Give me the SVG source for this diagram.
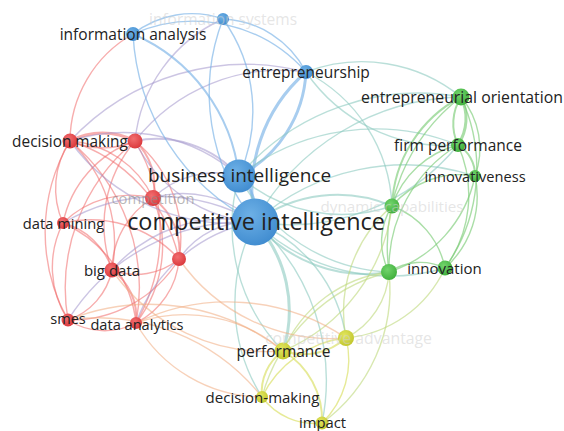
<svg xmlns="http://www.w3.org/2000/svg" width="564" height="431" viewBox="0 0 564 431">
<defs>
<radialGradient id="gr" cx="0.4" cy="0.35" r="0.7"><stop offset="0" stop-color="#f26d6f"/><stop offset="1" stop-color="#d9363a"/></radialGradient>
<radialGradient id="gb" cx="0.4" cy="0.35" r="0.7"><stop offset="0" stop-color="#6db0e6"/><stop offset="1" stop-color="#3f8bcf"/></radialGradient>
<radialGradient id="gg" cx="0.4" cy="0.35" r="0.7"><stop offset="0" stop-color="#72d46c"/><stop offset="1" stop-color="#3eae3b"/></radialGradient>
<radialGradient id="gy" cx="0.4" cy="0.35" r="0.7"><stop offset="0" stop-color="#e2e660"/><stop offset="1" stop-color="#c0c52a"/></radialGradient>
</defs>
<style>
path{fill:none;stroke-width:1.4;stroke-linecap:round}
.r{stroke:#f06a6a;stroke-opacity:.55}
.b{stroke:#7ab2e6;stroke-opacity:.65}
.g{stroke:#7ccc78;stroke-opacity:.65}
.y{stroke:#d8df60;stroke-opacity:.65}
.p{stroke:#a396cc;stroke-opacity:.55}
.o{stroke:#f0ab80;stroke-opacity:.55}
.t{stroke:#8cc9c0;stroke-opacity:.6}
.yg{stroke:#bed97c;stroke-opacity:.6}
.k{stroke-width:3}
.m{stroke-width:2}
text{font-family:"Open Sans","Noto Sans","DejaVu Sans",sans-serif;fill:#222;text-anchor:middle;dominant-baseline:central}
.f{fill:#d0d0d0;fill-opacity:.55}
.fc{fill:#8a8a8a;fill-opacity:.6}
</style>
<rect width="564" height="431" fill="#ffffff"/>
<g id="connectors">
<path class="r k" d="M70,141 A70,70 0 0 1 135,141"/>
<path class="r" d="M135,141 A80,80 0 0 1 70,141"/>
<path class="r" d="M70,141 A100,100 0 0 1 153,198"/>
<path class="r" d="M63,223 A85,85 0 0 1 70,141"/>
<path class="r" d="M70,141 A140,140 0 0 1 112,270"/>
<path class="r" d="M68,320 A180,180 0 0 1 70,141"/>
<path class="r" d="M70,141 A190,190 0 0 1 136,323"/>
<path class="r" d="M70,141 A160,160 0 0 1 179,259"/>
<path class="r m" d="M135,141 A60,60 0 0 1 153,198"/>
<path class="r" d="M63,223 A110,110 0 0 1 135,141"/>
<path class="r" d="M135,141 A125,125 0 0 1 179,259"/>
<path class="r" d="M112,270 A130,130 0 0 1 135,141"/>
<path class="r" d="M135,141 A180,180 0 0 1 136,323"/>
<path class="r" d="M68,320 A190,190 0 0 1 135,141"/>
<path class="r" d="M63,223 A95,95 0 0 1 153,198"/>
<path class="r m" d="M153,198 A66,66 0 0 1 179,259"/>
<path class="r" d="M112,270 A85,85 0 0 1 153,198"/>
<path class="r" d="M153,198 A125,125 0 0 1 136,323"/>
<path class="r" d="M63,223 A70,70 0 0 1 112,270"/>
<path class="r" d="M68,320 A97,97 0 0 1 63,223"/>
<path class="r" d="M63,223 A124,124 0 0 1 136,323"/>
<path class="r" d="M63,223 A120,120 0 0 1 179,259"/>
<path class="r" d="M179,259 A68,68 0 0 1 112,270"/>
<path class="r" d="M179,259 A78,78 0 0 1 136,323"/>
<path class="r" d="M112,270 A67,67 0 0 1 68,320"/>
<path class="r m" d="M112,270 A58,58 0 0 1 136,323"/>
<path class="r" d="M68,320 A68,68 0 0 0 136,323"/>
<path class="r" d="M179,259 A127,127 0 0 1 68,320"/>
<path class="p m" d="M135,141 A110,110 0 0 1 239,176"/>
<path class="p" d="M70,141 A175,175 0 0 1 239,176"/>
<path class="p" d="M153,198 A105,105 0 0 1 255,222"/>
<path class="p" d="M153,198 A90,90 0 0 1 239,176"/>
<path class="p" d="M63,223 A190,190 0 0 1 255,222"/>
<path class="p" d="M179,259 A85,85 0 0 1 255,222"/>
<path class="p" d="M112,270 A150,150 0 0 1 255,222"/>
<path class="p" d="M136,323 A156,156 0 0 1 255,222"/>
<path class="p" d="M68,320 A210,210 0 0 1 255,222"/>
<path class="p" d="M70,141 A200,200 0 0 0 255,222"/>
<path class="p" d="M135,141 A145,145 0 0 0 255,222"/>
<path class="r" d="M70,141 A124,124 0 0 1 133,34"/>
<path class="p" d="M70,141 A240,240 0 0 1 306,72"/>
<path class="p" d="M135,141 A184,184 0 0 1 306,72"/>
<path class="p" d="M223,19 A150,150 0 0 0 135,141"/>
<path class="b" d="M133,34 A150,150 0 0 1 306,72"/>
<path class="b" d="M133,34 A95,95 0 0 1 223,19"/>
<path class="b" d="M223,19 A158,158 0 0 1 239,176"/>
<path class="b" d="M223,19 A205,205 0 0 0 255,222"/>
<path class="b" d="M223,19 A98,98 0 0 1 306,72"/>
<path class="b m" d="M133,34 A177,177 0 0 1 239,176"/>
<path class="b" d="M133,34 A224,224 0 0 0 255,222"/>
<path class="b k" d="M306,72 A124,124 0 0 1 239,176"/>
<path class="b k" d="M306,72 A158,158 0 0 0 255,222"/>
<path class="b k" d="M239,176 A50,50 0 0 1 255,222"/>
<path class="t" d="M255,222 A240,240 0 0 1 461,97"/>
<path class="t" d="M255,222 A217,217 0 0 0 458,145"/>
<path class="t" d="M255,222 A225,225 0 0 1 475,176"/>
<path class="t m" d="M255,222 A138,138 0 0 1 392,206"/>
<path class="t" d="M255,222 A195,195 0 0 0 445,268"/>
<path class="t m" d="M255,222 A143,143 0 0 0 389,272"/>
<path class="t" d="M239,176 A236,236 0 0 1 461,97"/>
<path class="t" d="M239,176 A221,221 0 0 1 458,145"/>
<path class="t" d="M239,176 A156,156 0 0 0 392,206"/>
<path class="t" d="M306,72 A157,157 0 0 1 461,97"/>
<path class="t" d="M306,72 A169,169 0 0 0 458,145"/>
<path class="t" d="M306,72 A158,158 0 0 1 392,206"/>
<path class="t" d="M239,176 A177,177 0 0 0 389,272"/>
<path class="t" d="M255,222 A147,147 0 0 1 346,338"/>
<path class="t k" d="M255,222 A132,132 0 0 1 283,351"/>
<path class="t" d="M255,222 A175,175 0 0 0 262,397"/>
<path class="t" d="M255,222 A212,212 0 0 1 322,423"/>
<path class="t" d="M239,176 A180,180 0 0 0 283,351"/>
<path class="g k" d="M461,97 A48,48 0 0 1 458,145"/>
<path class="g m" d="M458,145 A50,50 0 0 1 461,97"/>
<path class="g" d="M461,97 A80,80 0 0 1 475,176"/>
<path class="g m" d="M461,97 A129,129 0 0 0 392,206"/>
<path class="g" d="M461,97 A171,171 0 0 1 445,268"/>
<path class="g" d="M461,97 A189,189 0 0 0 389,272"/>
<path class="g m" d="M458,145 A35,35 0 0 1 475,176"/>
<path class="g" d="M458,145 A94,94 0 0 0 392,206"/>
<path class="g" d="M458,145 A123,123 0 0 1 445,268"/>
<path class="g" d="M458,145 A145,145 0 0 0 389,272"/>
<path class="g" d="M475,176 A89,89 0 0 0 392,206"/>
<path class="g" d="M475,176 A96,96 0 0 1 445,268"/>
<path class="g" d="M475,176 A128,128 0 0 1 389,272"/>
<path class="g" d="M392,206 A84,84 0 0 1 445,268"/>
<path class="g" d="M392,206 A66,66 0 0 0 389,272"/>
<path class="g" d="M389,272 A56,56 0 0 1 445,268"/>
<path class="yg" d="M389,272 A79,79 0 0 1 346,338"/>
<path class="yg" d="M389,272 A132,132 0 0 0 283,351"/>
<path class="yg" d="M392,206 A181,181 0 0 1 283,351"/>
<path class="yg" d="M445,268 A121,121 0 0 1 346,338"/>
<path class="yg" d="M392,206 A140,140 0 0 0 346,338"/>
<path class="yg" d="M389,272 A165,165 0 0 1 322,423"/>
<path class="yg" d="M389,272 A177,177 0 0 0 262,397"/>
<path class="y m" d="M346,338 A64,64 0 0 1 283,351"/>
<path class="y" d="M346,338 A106,106 0 0 0 262,397"/>
<path class="y" d="M346,338 A88,88 0 0 1 322,423"/>
<path class="y m" d="M283,351 A50,50 0 0 0 262,397"/>
<path class="y m" d="M283,351 A80,80 0 0 1 322,423"/>
<path class="y" d="M262,397 A65,65 0 0 0 322,423"/>
<path class="o" d="M283,351 A150,150 0 0 0 136,323"/>
<path class="o" d="M262,397 A146,146 0 0 1 136,323"/>
<path class="o" d="M283,351 A189,189 0 0 1 112,270"/>
<path class="o" d="M262,397 A209,209 0 0 0 68,320"/>
<path class="o" d="M283,351 A216,216 0 0 0 68,320"/>
<path class="o" d="M346,338 A185,185 0 0 1 179,259"/>
<path class="o" d="M346,338 A211,211 0 0 0 136,323"/>
</g>
<g id="node-information-systems"><circle cx="223" cy="19" r="6" fill="url(#gb)"/></g>
<g id="node-information-analysis"><circle cx="133" cy="34" r="7" fill="url(#gb)"/></g>
<g id="node-entrepreneurship"><circle cx="306" cy="72" r="7" fill="url(#gb)"/></g>
<g id="node-business-intelligence"><circle cx="239" cy="176" r="16.5" fill="url(#gb)"/></g>
<g id="node-competitive-intelligence"><circle cx="255" cy="222" r="23.5" fill="url(#gb)"/></g>
<g id="node-decision-making"><circle cx="70" cy="141" r="7.5" fill="url(#gr)"/></g>
<g id="node-red-2"><circle cx="135" cy="141" r="7.5" fill="url(#gr)"/></g>
<g id="node-competition"><circle cx="153" cy="198" r="8" fill="url(#gr)"/></g>
<g id="node-data-mining"><circle cx="63" cy="223" r="6" fill="url(#gr)"/></g>
<g id="node-red-5"><circle cx="179" cy="259" r="7" fill="url(#gr)"/></g>
<g id="node-big-data"><circle cx="112" cy="270" r="7.5" fill="url(#gr)"/></g>
<g id="node-smes"><circle cx="68" cy="320" r="6.5" fill="url(#gr)"/></g>
<g id="node-data-analytics"><circle cx="136" cy="323" r="6" fill="url(#gr)"/></g>
<g id="node-entrepreneurial-orientation"><circle cx="461" cy="97" r="8.5" fill="url(#gg)"/></g>
<g id="node-firm-performance"><circle cx="458" cy="145" r="7" fill="url(#gg)"/></g>
<g id="node-innovativeness"><circle cx="475" cy="176" r="6" fill="url(#gg)"/></g>
<g id="node-dynamic-capabilities"><circle cx="392" cy="206" r="7.5" fill="url(#gg)"/></g>
<g id="node-innovation"><circle cx="445" cy="268" r="7.5" fill="url(#gg)"/></g>
<g id="node-green-6"><circle cx="389" cy="272" r="8" fill="url(#gg)"/></g>
<g id="node-competitive-advantage"><circle cx="346" cy="338" r="8" fill="url(#gy)"/></g>
<g id="node-performance"><circle cx="283" cy="351" r="8.5" fill="url(#gy)"/></g>
<g id="node-decision-making-y"><circle cx="262" cy="397" r="6" fill="url(#gy)"/></g>
<g id="node-impact"><circle cx="322" cy="423" r="6.5" fill="url(#gy)"/></g>
<g id="labels">
<text x="223" y="19" font-size="15.5" class="f">information systems</text>
<text x="133" y="34" font-size="15.5">information analysis</text>
<text x="306" y="72" font-size="15.5">entrepreneurship</text>
<text x="462" y="97" font-size="15.8">entrepreneurial orientation</text>
<text x="70" y="141" font-size="15.4">decision making</text>
<text x="458" y="145" font-size="15.5">firm performance</text>
<text x="475" y="176" font-size="14.6">innovativeness</text>
<text x="239.5" y="175" font-size="19">business intelligence</text>
<text x="153" y="198" font-size="14.8" class="fc">competition</text>
<text x="392" y="206" font-size="15.2" class="f">dynamic capabilities</text>
<text x="256" y="221" font-size="23.4">competitive intelligence</text>
<text x="63.5" y="223" font-size="14.7">data mining</text>
<text x="444.5" y="268" font-size="15">innovation</text>
<text x="112" y="270" font-size="15">big data</text>
<text x="68" y="318" font-size="14.6">smes</text>
<text x="137" y="324" font-size="14.6">data analytics</text>
<text x="348.5" y="338" font-size="15.8" class="f">competitive advantage</text>
<text x="283.5" y="351" font-size="15.5">performance</text>
<text x="262.5" y="397" font-size="15">decision-making</text>
<text x="322.5" y="422" font-size="14.8">impact</text>
</g>
</svg>
